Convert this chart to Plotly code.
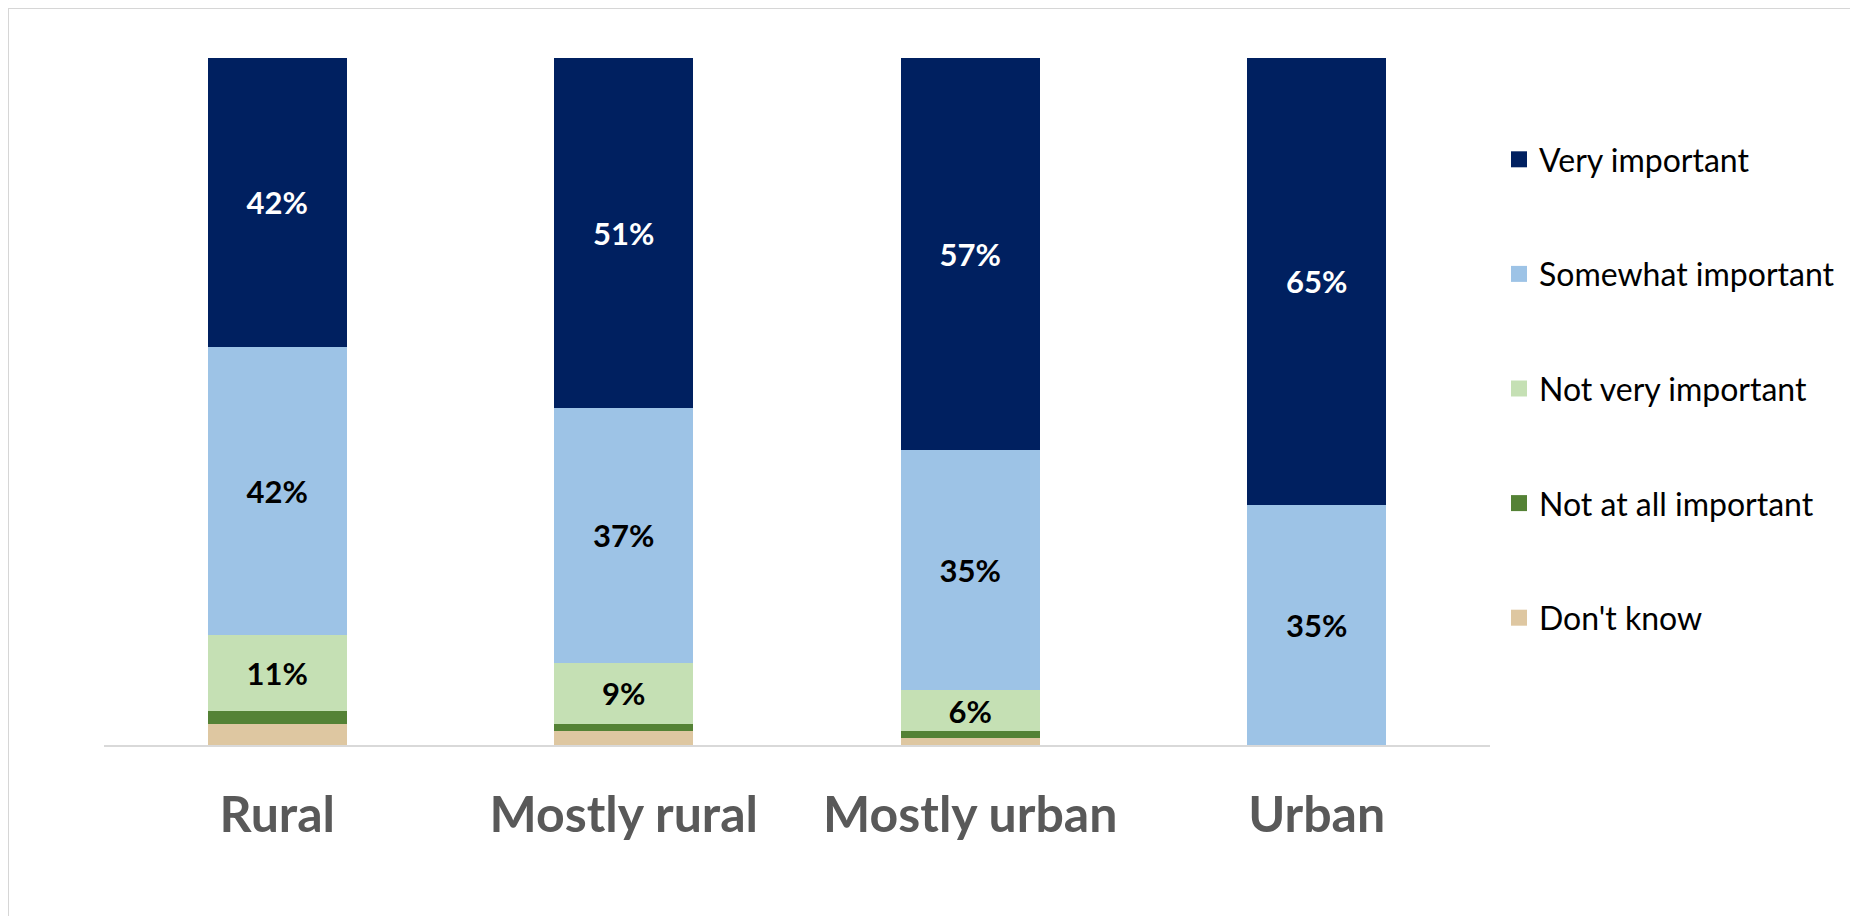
import plotly.graph_objects as go

categories = ["Rural", "Mostly rural", "Mostly urban", "Urban"]
very_important = [42, 51, 57, 65]
somewhat_important = [42, 37, 35, 35]
not_very_important = [11, 9, 6, 0]
not_at_all_important = [2, 1, 1, 0]
dont_know = [3, 2, 1, 0]

series = [
    ("Don't know", dont_know, "#DEC7A1", False, "#000000"),
    ("Not at all important", not_at_all_important, "#548235", False, "#000000"),
    ("Not very important", not_very_important, "#C5E0B4", True, "#000000"),
    ("Somewhat important", somewhat_important, "#9DC3E6", True, "#000000"),
    ("Very important", very_important, "#002060", True, "#FFFFFF"),
]

W, H = 1858, 916
L, T = 96, 50
pw, ph = 1386, 687
R, B = W - L - pw, H - T - ph

fig = go.Figure()
for name, vals, color, labelled, tcolor in series:
    text = [f"{v}%" if (labelled and v > 0) else "" for v in vals]
    fig.add_trace(go.Bar(
        x=categories, y=vals, name=name, marker=dict(color=color, line=dict(width=0)),
        text=text, textposition="inside", insidetextanchor="middle",
        textfont=dict(family="Lato", size=31, color=tcolor, weight="bold"),
        constraintext="none", showlegend=False, hoverinfo="skip",
    ))

# legend entries, top to bottom
for i, (name, vals, color, labelled, tcolor) in enumerate(reversed(series)):
    fig.add_trace(go.Scatter(
        x=[None], y=[None], mode="markers", name=name,
        marker=dict(symbol="square", size=18, color=color),
        legendgroup=f"g{i}", showlegend=True,
    ))

def px_x(p):
    return (p - L) / pw

def px_y(p):
    return (H - B - p) / ph

fig.add_shape(type="rect", xref="paper", yref="paper",
              x0=px_x(0), x1=px_x(1845), y0=px_y(930), y1=px_y(0),
              fillcolor="white", line=dict(color="#D6D6D6", width=2), layer="below")

fig.update_layout(
    width=W, height=H, autosize=False,
    margin=dict(l=L, r=R, t=T, b=B, pad=0),
    paper_bgcolor="#DCE3EE", plot_bgcolor="rgba(0,0,0,0)",
    barmode="stack", bargap=0.6,
    font=dict(family="Lato", color="#000000"),
    legend=dict(
        x=px_x(1491), xanchor="left", y=px_y(124), yanchor="top",
        traceorder="grouped", tracegroupgap=70,
        font=dict(family="Lato", size=32, color="#000000"),
        bgcolor="rgba(0,0,0,0)", itemwidth=30,
    ),
    showlegend=True,
)
fig.update_xaxes(
    showline=True, linecolor="#D9D9D9", linewidth=2, showgrid=False,
    ticks="outside", ticklen=25, tickcolor="rgba(0,0,0,0)",
    tickfont=dict(family="Lato", size=50, color="#595959", weight="bold"),
    fixedrange=True,
)
fig.update_yaxes(range=[0, 100], visible=False, showgrid=False, fixedrange=True)

fig.write_html("out.html")
